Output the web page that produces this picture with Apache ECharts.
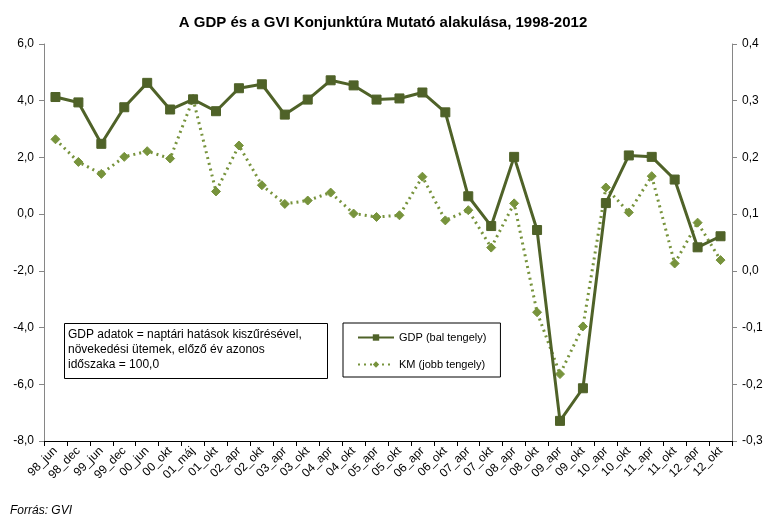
<!DOCTYPE html>
<html><head><meta charset="utf-8">
<script src="https://cdn.jsdelivr.net/npm/echarts@6/dist/echarts.min.js"></script>
<style>html,body{margin:0;padding:0;background:#fff}#c{width:766px;height:519px}</style>
</head><body><div id="c"></div>
<script>
var categories = ['98_jun','98_dec','99_jun','99_dec','00_jun','00_okt','01_máj','01_okt','02_apr','02_okt','03_apr','03_okt','04_apr','04_okt','05_apr','05_okt','06_apr','06_okt','07_apr','07_okt','08_apr','08_okt','09_apr','09_okt','10_apr','10_okt','11_apr','11_okt','12_apr','12_okt'];
var gdp = [4.13,3.94,2.48,3.77,4.63,3.69,4.05,3.63,4.44,4.58,3.51,4.04,4.72,4.54,4.04,4.08,4.29,3.59,0.63,-0.42,2.02,-0.56,-7.29,-6.14,0.39,2.07,2.02,1.22,-1.17,-0.78];
var km = [0.232,0.192,0.171,0.201,0.211,0.198,0.303,0.140,0.221,0.151,0.118,0.124,0.138,0.101,0.095,0.098,0.166,0.089,0.107,0.041,0.119,-0.073,-0.182,-0.098,0.147,0.103,0.167,0.013,0.085,0.019];
var titleText = 'A GDP és a GVI Konjunktúra Mutató alakulása, 1998-2012';
var noteLines = ['GDP adatok = naptári hatások kiszűrésével,','növekedési ütemek, előző év azonos','időszaka = 100,0'];
var sourceText = 'Forrás: GVI';

var chart = echarts.init(document.getElementById('c'));
var font = 'Liberation Sans, Arial, sans-serif';
function fmt(d){ return function(v){ return v.toFixed(d).replace('.', ','); }; }
chart.setOption({
  animation: false,
  textStyle: {fontFamily: font},
  title: {text: titleText, left: 'center', top: 10,
    textStyle: {fontFamily: font, fontSize: 15, fontWeight: 'bold', color: '#000'}},
  grid: {left: 44, right: 34, top: 44, bottom: 78},
  legend: {
    orient: 'vertical', left: 343, top: 323, width: 156,
    borderColor: '#000', borderWidth: 1, padding: [9, 14, 7, 14], itemGap: 16,
    itemWidth: 36, itemHeight: 8,
    textStyle: {fontFamily: font, fontSize: 11, color: '#000'},
    data: ['GDP (bal tengely)', 'KM (jobb tengely)']
  },
  xAxis: {
    type: 'category', data: categories, boundaryGap: true,
    axisLine: {onZero: false, lineStyle: {color: '#000'}},
    axisTick: {show: true, interval: 0, lineStyle: {color: '#000'}},
    axisLabel: {interval: 0, rotate: 45, fontSize: 12, color: '#000', fontFamily: font, margin: 8},
    splitLine: {show: false}
  },
  yAxis: [
    {type: 'value', min: -8, max: 6, interval: 2, position: 'left',
     axisLine: {show: true, lineStyle: {color: '#868686'}},
     axisTick: {show: true, lineStyle: {color: '#868686'}},
     axisLabel: {formatter: fmt(1), fontSize: 12, color: '#000', fontFamily: font, margin: 10},
     splitLine: {show: false}},
    {type: 'value', min: -0.3, max: 0.4, interval: 0.1, position: 'right',
     axisLine: {show: true, lineStyle: {color: '#868686'}},
     axisTick: {show: true, lineStyle: {color: '#868686'}},
     axisLabel: {formatter: fmt(1), fontSize: 12, color: '#000', fontFamily: font, margin: 10},
     splitLine: {show: false}}
  ],
  series: [
    {name: 'GDP (bal tengely)', type: 'line', yAxisIndex: 0, data: gdp,
     symbol: 'rect', symbolSize: 9,
     lineStyle: {color: '#4F6228', width: 3},
     itemStyle: {color: '#4F6228', borderColor: '#4F6228'}, z: 3},
    {name: 'KM (jobb tengely)', type: 'line', yAxisIndex: 1, data: km,
     symbol: 'diamond', symbolSize: 9,
     lineStyle: {color: '#77933C', width: 3, type: [2, 4]},
     itemStyle: {color: '#77933C', borderColor: '#77933C'}, z: 2}
  ],
  graphic: [
    {type: 'rect', left: 64, top: 323, shape: {width: 263, height: 55},
     style: {fill: '#fff', stroke: '#000', lineWidth: 1}},
    {type: 'text', left: 68, top: 327,
     style: {text: noteLines.join('\n'), font: '12px ' + font, fill: '#000', lineHeight: 15}},
    {type: 'text', left: 10, top: 505,
     style: {text: sourceText, font: 'italic 12px ' + font, fill: '#000'}}
  ]
});
</script></body></html>
